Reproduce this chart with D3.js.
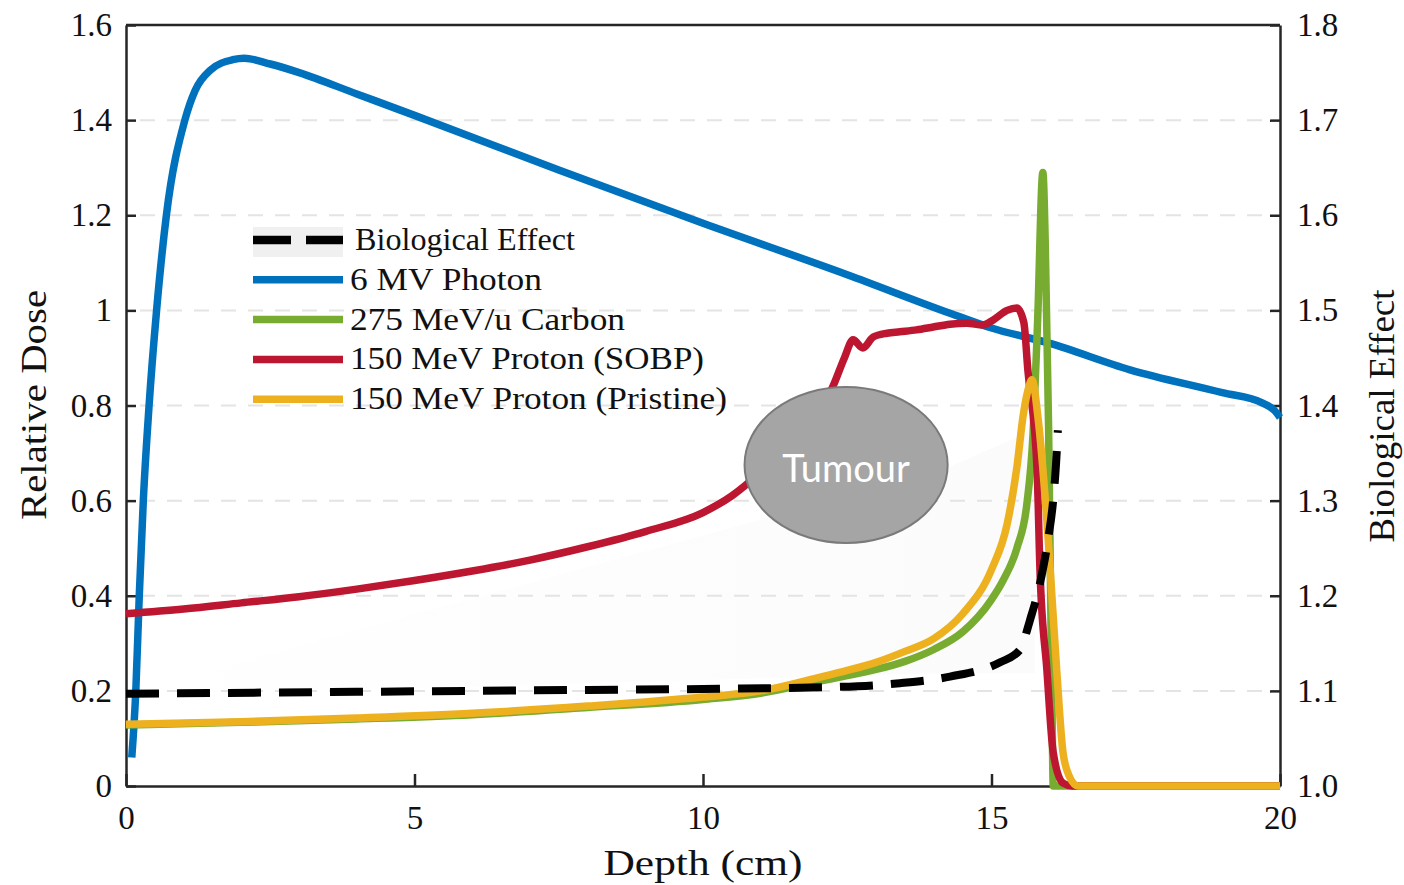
<!DOCTYPE html>
<html>
<head>
<meta charset="utf-8">
<script src="https://cdn.jsdelivr.net/npm/d3@7"></script>
<style>
  body { margin: 0; background: #fff; }
  text { font-family: "Liberation Serif", "Times New Roman", serif; fill: #111; }
</style>
</head>
<body>
<div id="chart"></div>
<script>
// depth (cm) / value pairs
const photon = [[0.1,0.06],[0.17,0.2],[0.23,0.4],[0.3,0.6],[0.4,0.8],[0.53,1.0],[0.7,1.2],[1.02,1.4],[1.2,1.463],[1.46,1.505],[1.85,1.527],[2.05,1.53],[2.5,1.518],[3.0,1.5],[4.0,1.455],[5,1.41],[7.5,1.295],[10,1.183],[12.5,1.075],[14.28,0.994],[15,0.963],[16,0.931],[17.4,0.875],[19,0.827],[19.7,0.805],[19.9,0.79],[20,0.775]]
const carbon = [[0,0.128],[2,0.134],[4,0.141],[6,0.15],[8,0.165],[10,0.182],[11,0.195],[12,0.22],[12.5,0.232],[13,0.245],[13.5,0.262],[14,0.287],[14.5,0.324],[15,0.392],[15.2,0.432],[15.44,0.5],[15.61,0.59],[15.72,0.74],[15.8,0.98],[15.89,1.29],[15.93,1.15],[15.96,0.95],[15.99,0.75],[16.02,0.45],[16.05,0.15],[16.07,0.0],[20,0]]
const protonSobp = [[0,0.362],[1,0.372],[2,0.385],[3,0.398],[4,0.414],[5,0.432],[6,0.452],[7,0.475],[8,0.503],[9,0.535],[10,0.575],[10.5,0.61],[11,0.66],[11.5,0.72],[12,0.79],[12.24,0.837],[12.45,0.9],[12.6,0.938],[12.77,0.921],[12.95,0.944],[13.19,0.952],[13.41,0.955],[13.7,0.959],[13.99,0.965],[14.28,0.971],[14.57,0.973],[14.85,0.969],[15.03,0.98],[15.27,1.0],[15.44,1.005],[15.56,0.975],[15.63,0.875],[15.79,0.665],[15.84,0.454],[15.96,0.244],[16.07,0.07],[16.24,0.006],[16.4,0],[20,0]]
const protonPristine = [[0,0.13],[2,0.135],[4,0.143],[6,0.153],[8,0.168],[10,0.187],[11,0.2],[12,0.228],[12.5,0.243],[13,0.26],[13.5,0.283],[14,0.31],[14.5,0.362],[15,0.455],[15.27,0.55],[15.44,0.67],[15.55,0.78],[15.65,0.84],[15.7,0.854],[15.81,0.77],[15.98,0.524],[16.13,0.244],[16.24,0.07],[16.35,0.02],[16.5,0],[20,0]]
const bioEffect = [[0,1.097],[4,1.099],[8,1.101],[10,1.102],[12.25,1.104],[13.41,1.108],[14.28,1.115],[15.15,1.13],[15.49,1.143],[15.67,1.175],[15.84,1.213],[15.98,1.259],[16.07,1.301],[16.12,1.34],[16.15,1.374]]

const depthTicks = [0, 5, 10, 15, 20]
const doseTicks = [0, 0.2, 0.4, 0.6, 0.8, 1, 1.2, 1.4, 1.6]
const doseLabels = ["0", "0.2", "0.4", "0.6", "0.8", "1", "1.2", "1.4", "1.6"]
const bioTicks = [1.0, 1.1, 1.2, 1.3, 1.4, 1.5, 1.6, 1.7, 1.8]
const bioLabels = ["1.0", "1.1", "1.2", "1.3", "1.4", "1.5", "1.6", "1.7", "1.8"]

const seriesNames = ["Biological Effect", "6 MV Photon", "275 MeV/u Carbon", "150 MeV Proton (SOBP)", "150 MeV Proton (Pristine)"]
const seriesColours = ["#000000", "#0072bd", "#77ac30", "#bd1631", "#edb120"]

// tumour annotation: centre depth, centre dose, radii
const tumour = {cx: 12.48, cy: 0.675, rx: 1.76, ry: 0.164, label: "Tumour"}
const shade = [[0,0.195],[11.0,0.56],[13.5,0.63],[15.75,0.75],[15.75,0.237],[14.2,0.237],[0,0.19]]

const width = 1404
const height = 885
const margin = {top: 25, bottom: 99, left: 126, right: 124}
const innerW = width - margin.left - margin.right
const innerH = height - margin.top - margin.bottom
const serif = "'Liberation Serif', 'Times New Roman', serif"

const svg = d3.select("#chart").append("svg").attr("width", width).attr("height", height)
const g = svg.append("g").attr("transform", `translate(${margin.left}, ${margin.top})`)

const x = d3.scaleLinear().domain([0, 20]).range([0, innerW])
const y = d3.scaleLinear().domain([0, 1.6]).range([innerH, 0])
const yR = d3.scaleLinear().domain([1.0, 1.8]).range([innerH, 0])

// faint shading
const grad = svg.append("defs").append("linearGradient").attr("id", "shadeGrad")
grad.append("stop").attr("offset", "0%").attr("stop-color", "#f5f5f5").attr("stop-opacity", 0)
grad.append("stop").attr("offset", "100%").attr("stop-color", "#f5f5f5").attr("stop-opacity", 0.4)
g.append("path")
    .attr("d", d3.line().x(d => x(d[0])).y(d => y(d[1]))(shade))
    .attr("fill", "url(#shadeGrad)")

// grid
g.append("g").selectAll("line").data(doseTicks.filter(d => d > 0 && d < 1.6)).enter().append("line")
    .attr("x1", 14).attr("x2", innerW - 12)
    .attr("y1", d => y(d)).attr("y2", d => y(d))
    .attr("stroke", "#e4e4e4").attr("stroke-width", 2).attr("stroke-dasharray", "15,12")

// axes
const styleAxis = sel => {
    sel.attr("font-family", serif).attr("font-size", 33)
    sel.selectAll("path, line").attr("stroke", "#262626").attr("stroke-width", 2.5)
    sel.selectAll("text").attr("font-family", serif).attr("font-size", 33).attr("fill", "#222")
}
g.append("g").attr("transform", `translate(0, ${innerH})`)
    .call(d3.axisBottom(x).tickValues(depthTicks).tickFormat(d3.format("d")).tickSizeInner(-12).tickSizeOuter(0).tickPadding(20))
    .call(styleAxis)
g.append("g")
    .call(d3.axisLeft(y).tickValues(doseTicks).tickFormat((d, i) => doseLabels[i]).tickSizeInner(-10).tickSizeOuter(0).tickPadding(14))
    .call(styleAxis)
g.append("g").attr("transform", `translate(${innerW}, 0)`)
    .call(d3.axisRight(yR).tickValues(bioTicks).tickFormat((d, i) => bioLabels[i]).tickSizeInner(-10).tickSizeOuter(0).tickPadding(17))
    .call(styleAxis)
g.append("line").attr("x1", 0).attr("x2", innerW).attr("y1", 0).attr("y2", 0)
    .attr("stroke", "#262626").attr("stroke-width", 2.5)

// curves
const line = d3.line().x(d => x(d[0])).y(d => y(d[1])).curve(d3.curveMonotoneX)
const lineR = d3.line().x(d => x(d[0])).y(d => yR(d[1])).curve(d3.curveMonotoneX)
const plot = (data, colour, gen) => g.append("path").attr("d", gen(data))
    .attr("fill", "none").attr("stroke", colour).attr("stroke-width", 7.5)
    .attr("stroke-linejoin", "round")

plot(photon, seriesColours[1], line)
plot(carbon, seriesColours[2], line)
plot(protonSobp, seriesColours[3], line)
plot(protonPristine, seriesColours[4], line)
plot(bioEffect, seriesColours[0], lineR).attr("stroke-width", 8).attr("stroke-dasharray", "33,18").attr("stroke-linejoin", "miter")

// tumour
g.append("ellipse")
    .attr("cx", x(tumour.cx)).attr("cy", y(tumour.cy))
    .attr("rx", x(tumour.rx) - x(0)).attr("ry", y(0) - y(tumour.ry))
    .attr("fill", "#a5a5a5").attr("stroke", "#7a7a7a").attr("stroke-width", 2)
g.append("text")
    .attr("x", x(tumour.cx)).attr("y", y(tumour.cy) + 17)
    .attr("text-anchor", "middle")
    .attr("font-family", "Lato, 'Open Sans', sans-serif").style("font-family", "Lato, 'Open Sans', sans-serif").style("fill", "#fff")
    .attr("font-size", 38)
    .text(tumour.label)

// legend
const legendWidths = [220, 192, 275, 354, 377]
const legend = svg.append("g").attr("transform", "translate(253, 240)")
legend.append("rect").attr("x", 0).attr("y", -13).attr("width", 90).attr("height", 30).attr("fill", "#f0f0f0")
const rows = legend.selectAll("g").data(seriesNames).enter().append("g")
    .attr("transform", (d, i) => `translate(0, ${i * 39.8})`)
rows.append("line").attr("x1", 0).attr("x2", 90).attr("y1", 0).attr("y2", 0)
    .attr("stroke", (d, i) => seriesColours[i])
    .attr("stroke-width", (d, i) => i === 0 ? 8.5 : 7.5)
    .attr("stroke-dasharray", (d, i) => i === 0 ? "38,15" : null)
rows.append("text")
    .attr("x", (d, i) => i === 0 ? 102 : 97).attr("y", 10)
    .attr("font-size", 31)
    .attr("textLength", (d, i) => legendWidths[i]).attr("lengthAdjust", "spacingAndGlyphs")
    .text(d => d)

// axis titles
svg.append("text").attr("x", 703).attr("y", 875).attr("text-anchor", "middle")
    .attr("font-size", 36).attr("textLength", 199).attr("lengthAdjust", "spacingAndGlyphs")
    .text("Depth (cm)")
svg.append("text").attr("transform", "translate(46, 405) rotate(-90)").attr("text-anchor", "middle")
    .attr("font-size", 36).attr("textLength", 230).attr("lengthAdjust", "spacingAndGlyphs")
    .text("Relative Dose")
svg.append("text").attr("transform", "translate(1394, 416) rotate(-90)").attr("text-anchor", "middle")
    .attr("font-size", 36).attr("textLength", 253).attr("lengthAdjust", "spacingAndGlyphs")
    .text("Biological Effect")
</script>
</body>
</html>
